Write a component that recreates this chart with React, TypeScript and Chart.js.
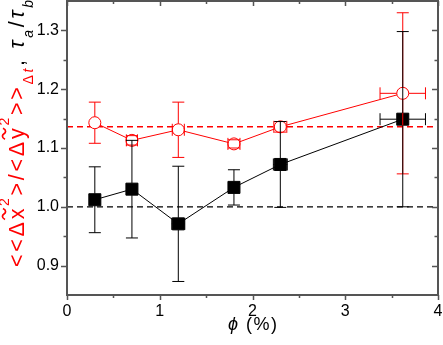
import React, { useEffect, useRef } from "react";
import { Chart, registerables } from "chart.js";

Chart.register(...registerables);

// ---- data ----
const phi = [0.3, 0.7, 1.2, 1.8, 2.3, 3.62];
const tauRatio = [1.012, 1.03, 0.971, 1.033, 1.072, 1.149];
const tauRatioErrY = [0.056, 0.083, 0.098, 0.03, 0.073, 0.149];
const tauRatioErrX = [0, 0, 0.07, 0, 0.075, 0.245];
const msdRatio = [1.143, 1.113, 1.131, 1.107, 1.136, 1.193];
const msdRatioErrY = [0.035, 0.008, 0.047, 0.007, 0.009, 0.137];
const msdRatioErrX = [0, 0.06, 0.065, 0.065, 0.07, 0.245];
const refBlack = 1.0;
const refRed = 1.136;
const yTicks = [0.9, 1.0, 1.1, 1.2, 1.3];
const yMinorTicks = [0.95, 1.05, 1.15, 1.25];
const xTicks = [0, 1, 2, 3, 4];
const xMinorTicks = [0.5, 1.5, 2.5, 3.5];

const FONT = "'Liberation Sans', Arial, sans-serif";
const RED = "#ff0000";

const errorSets = [
  { values: msdRatio, errY: msdRatioErrY, errX: msdRatioErrX, color: RED, half: 6 },
  { values: tauRatio, errY: tauRatioErrY, errX: tauRatioErrX, color: "#000", half: 6 },
];

const refPlugin = {
  id: "refLines",
  beforeDatasetsDraw(chart: any) {
    const { ctx, chartArea, scales } = chart;
    const y = scales.y;
    ctx.save();
    const lines = [
      { v: refBlack, c: "#000", w: 1.2 },
      { v: refRed, c: RED, w: 1.5 },
    ];
    for (const l of lines) {
      const py = y.getPixelForValue(l.v);
      ctx.strokeStyle = l.c;
      ctx.lineWidth = l.w;
      ctx.setLineDash([6, 4]);
      ctx.beginPath();
      ctx.moveTo(chartArea.left, py);
      ctx.lineTo(chartArea.right, py);
      ctx.stroke();
    }
    ctx.restore();
  },
};

const errorPlugin = {
  id: "errorBars",
  afterDatasetsDraw(chart: any) {
    const { ctx, scales } = chart;
    const xs = scales.x;
    const ys = scales.y;
    const cap = 6;
    ctx.save();
    ctx.setLineDash([]);
    ctx.lineWidth = 1;
    for (const s of errorSets) {
      ctx.strokeStyle = s.color;
      for (let i = 0; i < phi.length; i++) {
        const px = xs.getPixelForValue(phi[i]);
        const py = ys.getPixelForValue(s.values[i]);
        const r = s.half;
        const ey = s.errY[i];
        if (ey > 0) {
          const top = ys.getPixelForValue(s.values[i] + ey);
          const bot = ys.getPixelForValue(s.values[i] - ey);
          ctx.beginPath();
          if (top < py - r) {
            ctx.moveTo(px, py - r);
            ctx.lineTo(px, top);
          }
          if (bot > py + r) {
            ctx.moveTo(px, py + r);
            ctx.lineTo(px, bot);
          }
          ctx.moveTo(px - cap, top);
          ctx.lineTo(px + cap, top);
          ctx.moveTo(px - cap, bot);
          ctx.lineTo(px + cap, bot);
          ctx.stroke();
        }
        const ex = s.errX[i];
        if (ex > 0) {
          const lft = xs.getPixelForValue(phi[i] - ex);
          const rgt = xs.getPixelForValue(phi[i] + ex);
          ctx.beginPath();
          if (lft < px - r) {
            ctx.moveTo(px - r, py);
            ctx.lineTo(lft, py);
          }
          if (rgt > px + r) {
            ctx.moveTo(px + r, py);
            ctx.lineTo(rgt, py);
          }
          ctx.moveTo(lft, py - cap);
          ctx.lineTo(lft, py + cap);
          ctx.moveTo(rgt, py - cap);
          ctx.lineTo(rgt, py + cap);
          ctx.stroke();
        }
      }
    }
    ctx.restore();
  },
};

type Piece = { t: string; size: number; italic?: boolean; dy: number; color: string; tilde?: boolean };

const MAIN = 21.5;
const SMALL = 14;
const SUP = -15;
const SUB = 9;

const yTitlePieces: Piece[] = [
  { t: "<", size: MAIN, dy: 0, color: RED },
  { t: "<", size: MAIN, dy: 0, color: RED },
  { t: "Δ", size: MAIN, dy: 0, color: RED },
  { t: "x", size: MAIN, dy: 0, color: RED, tilde: true },
  { t: "2", size: SMALL, dy: SUP, color: RED },
  { t: ">", size: MAIN, dy: 0, color: RED },
  { t: "/", size: MAIN, dy: 0, color: RED },
  { t: "<", size: MAIN, dy: 0, color: RED },
  { t: "Δ", size: MAIN, dy: 0, color: RED },
  { t: "y", size: MAIN, dy: 0, color: RED, tilde: true },
  { t: "2", size: SMALL, dy: SUP, color: RED },
  { t: ">", size: MAIN, dy: 0, color: RED },
  { t: ">", size: MAIN, dy: 0, color: RED },
  { t: "Δ", size: SMALL, dy: SUB, color: RED },
  { t: "t", size: SMALL, italic: true, dy: SUB, color: RED },
  { t: ",", size: MAIN, dy: 0, color: "#000" },
  { t: " ", size: MAIN, dy: 0, color: "#000" },
  { t: "τ", size: MAIN, italic: true, dy: 0, color: "#000" },
  { t: "a", size: SMALL, italic: true, dy: SUB, color: "#000" },
  { t: "/", size: MAIN, dy: 0, color: "#000" },
  { t: "τ", size: MAIN, italic: true, dy: 0, color: "#000" },
  { t: "b", size: SMALL, italic: true, dy: SUB, color: "#000" },
];

const framePlugin = {
  id: "frame",
  afterDraw(chart: any) {
    const { ctx, chartArea, scales } = chart;
    const { left, right, top, bottom } = chartArea;
    const xs = scales.x;
    const ys = scales.y;
    ctx.save();
    ctx.setLineDash([]);
    ctx.strokeStyle = "#555";
    ctx.lineWidth = 2;
    ctx.strokeRect(left, top, right - left, bottom - top);
    ctx.lineWidth = 1.5;
    ctx.beginPath();
    for (const v of yTicks) {
      const py = Math.round(ys.getPixelForValue(v)) + 0.5;
      ctx.moveTo(left - 6, py);
      ctx.lineTo(left, py);
      ctx.moveTo(right, py);
      ctx.lineTo(right - 6, py);
    }
    for (const v of yMinorTicks) {
      const py = Math.round(ys.getPixelForValue(v)) + 0.5;
      ctx.moveTo(left - 3.5, py);
      ctx.lineTo(left, py);
      ctx.moveTo(right, py);
      ctx.lineTo(right - 3.5, py);
    }
    for (const v of xTicks) {
      const px = Math.round(xs.getPixelForValue(v)) + 0.5;
      ctx.moveTo(px, bottom);
      ctx.lineTo(px, bottom + 5);
      ctx.moveTo(px, top);
      ctx.lineTo(px, top + 5);
    }
    for (const v of xMinorTicks) {
      const px = Math.round(xs.getPixelForValue(v)) + 0.5;
      ctx.moveTo(px, bottom);
      ctx.lineTo(px, bottom + 3);
      ctx.moveTo(px, top);
      ctx.lineTo(px, top + 3);
    }
    ctx.stroke();

    // x title
    const cx = (left + right) / 2;
    const base = 329.5;
    const xfs = 18;
    const ls = 1.5;
    ctx.fillStyle = "#000";
    ctx.textBaseline = "alphabetic";
    ctx.textAlign = "left";
    const xParts = [
      { t: "ϕ", it: true },
      { t: " ", it: false },
      { t: "(", it: false },
      { t: "%", it: false },
      { t: ")", it: false },
    ];
    const xw = xParts.map((p) => {
      ctx.font = `${p.it ? "italic " : ""}${xfs}px ${FONT}`;
      return ctx.measureText(p.t).width;
    });
    const totalW = xw.reduce((a, b) => a + b, 0) + ls * (xParts.length - 1);
    let sx = cx - totalW / 2;
    xParts.forEach((p, i) => {
      ctx.font = `${p.it ? "italic " : ""}${xfs}px ${FONT}`;
      ctx.fillText(p.t, sx, base);
      sx += xw[i] + ls;
    });

    // y title (rotated)
    const baseX = 24;
    const startY = 267;
    const endY = 0;
    const widths = yTitlePieces.map((p) => {
      ctx.font = `${p.italic ? "italic " : ""}${p.size}px ${FONT}`;
      return ctx.measureText(p.t).width;
    });
    const natural = widths.reduce((a, b) => a + b, 0);
    const extra = (startY - endY - natural) / (yTitlePieces.length - 1);
    ctx.translate(baseX, startY);
    ctx.rotate(-Math.PI / 2);
    let x = 0;
    yTitlePieces.forEach((p, i) => {
      ctx.font = `${p.italic ? "italic " : ""}${p.size}px ${FONT}`;
      ctx.fillStyle = p.color;
      ctx.fillText(p.t, x, p.dy);
      if (p.tilde) {
        const c = x + widths[i] / 2;
        const ty = -20;
        ctx.strokeStyle = p.color;
        ctx.lineWidth = 1.7;
        ctx.beginPath();
        ctx.moveTo(c - 5.5, ty + 1);
        ctx.bezierCurveTo(c - 3.5, ty - 3, c - 1, ty - 1.5, c, ty);
        ctx.bezierCurveTo(c + 1, ty + 1.5, c + 3.5, ty + 3, c + 5.5, ty - 1);
        ctx.stroke();
      }
      x += widths[i] + extra;
    });
    ctx.restore();
  },
};

const noPad = (s: any) => {
  s.paddingTop = 0;
  s.paddingBottom = 0;
  s.paddingLeft = 0;
  s.paddingRight = 0;
};

export default function App() {
  const ref = useRef<HTMLCanvasElement | null>(null);
  useEffect(() => {
    if (!ref.current) return;
    const chart = new Chart(ref.current, {
      type: "line",
      data: {
        datasets: [
          {
            label: "msd",
            data: phi.map((x, i) => ({ x, y: msdRatio[i] })),
            borderColor: RED,
            borderWidth: 1,
            pointStyle: "circle",
            pointRadius: 6,
            pointBorderWidth: 1,
            pointBackgroundColor: "#ffffff",
            pointBorderColor: RED,
            showLine: true,
            tension: 0,
          },
          {
            label: "tau",
            data: phi.map((x, i) => ({ x, y: tauRatio[i] })),
            borderColor: "#000",
            borderWidth: 1,
            pointStyle: "rect",
            pointRadius: 8.5,
            pointBorderWidth: 1,
            pointBackgroundColor: "#000",
            pointBorderColor: "#000",
            showLine: true,
            tension: 0,
          },
        ],
      },
      options: {
        responsive: false,
        animation: false,
        devicePixelRatio: 1,
        layout: { autoPadding: false, padding: { left: 0, top: 1, right: 5, bottom: 0 } },
        plugins: { legend: { display: false }, tooltip: { enabled: false } },
        scales: {
          x: {
            type: "linear",
            min: 0,
            max: 4,
            afterBuildTicks: (s: any) => {
              s.ticks = xTicks.map((v) => ({ value: v }));
            },
            ticks: { font: { family: FONT, size: 16 }, color: "#000", padding: 7, maxRotation: 0, callback: (v: any) => String(v) },
            grid: { display: false, drawTicks: false },
            border: { display: false },
            afterFit: (s: any) => {
              s.height = 50;
              noPad(s);
            },
          },
          y: {
            type: "linear",
            min: 0.85,
            max: 1.35,
            afterBuildTicks: (s: any) => {
              s.ticks = yTicks.map((v) => ({ value: v }));
            },
            ticks: { font: { family: FONT, size: 16 }, color: "#000", padding: 8, callback: (v: any) => Number(v).toFixed(1) },
            grid: { display: false, drawTicks: false },
            border: { display: false },
            afterFit: (s: any) => {
              s.width = 67;
              noPad(s);
            },
          },
        },
      } as any,
      plugins: [refPlugin, errorPlugin, framePlugin],
    });
    return () => chart.destroy();
  }, []);
  return (
    <div style={{ position: "absolute", left: 0, top: 0, width: 443, height: 345, background: "#fff" }}>
      <canvas ref={ref} width={443} height={345} style={{ display: "block" }} />
    </div>
  );
}
